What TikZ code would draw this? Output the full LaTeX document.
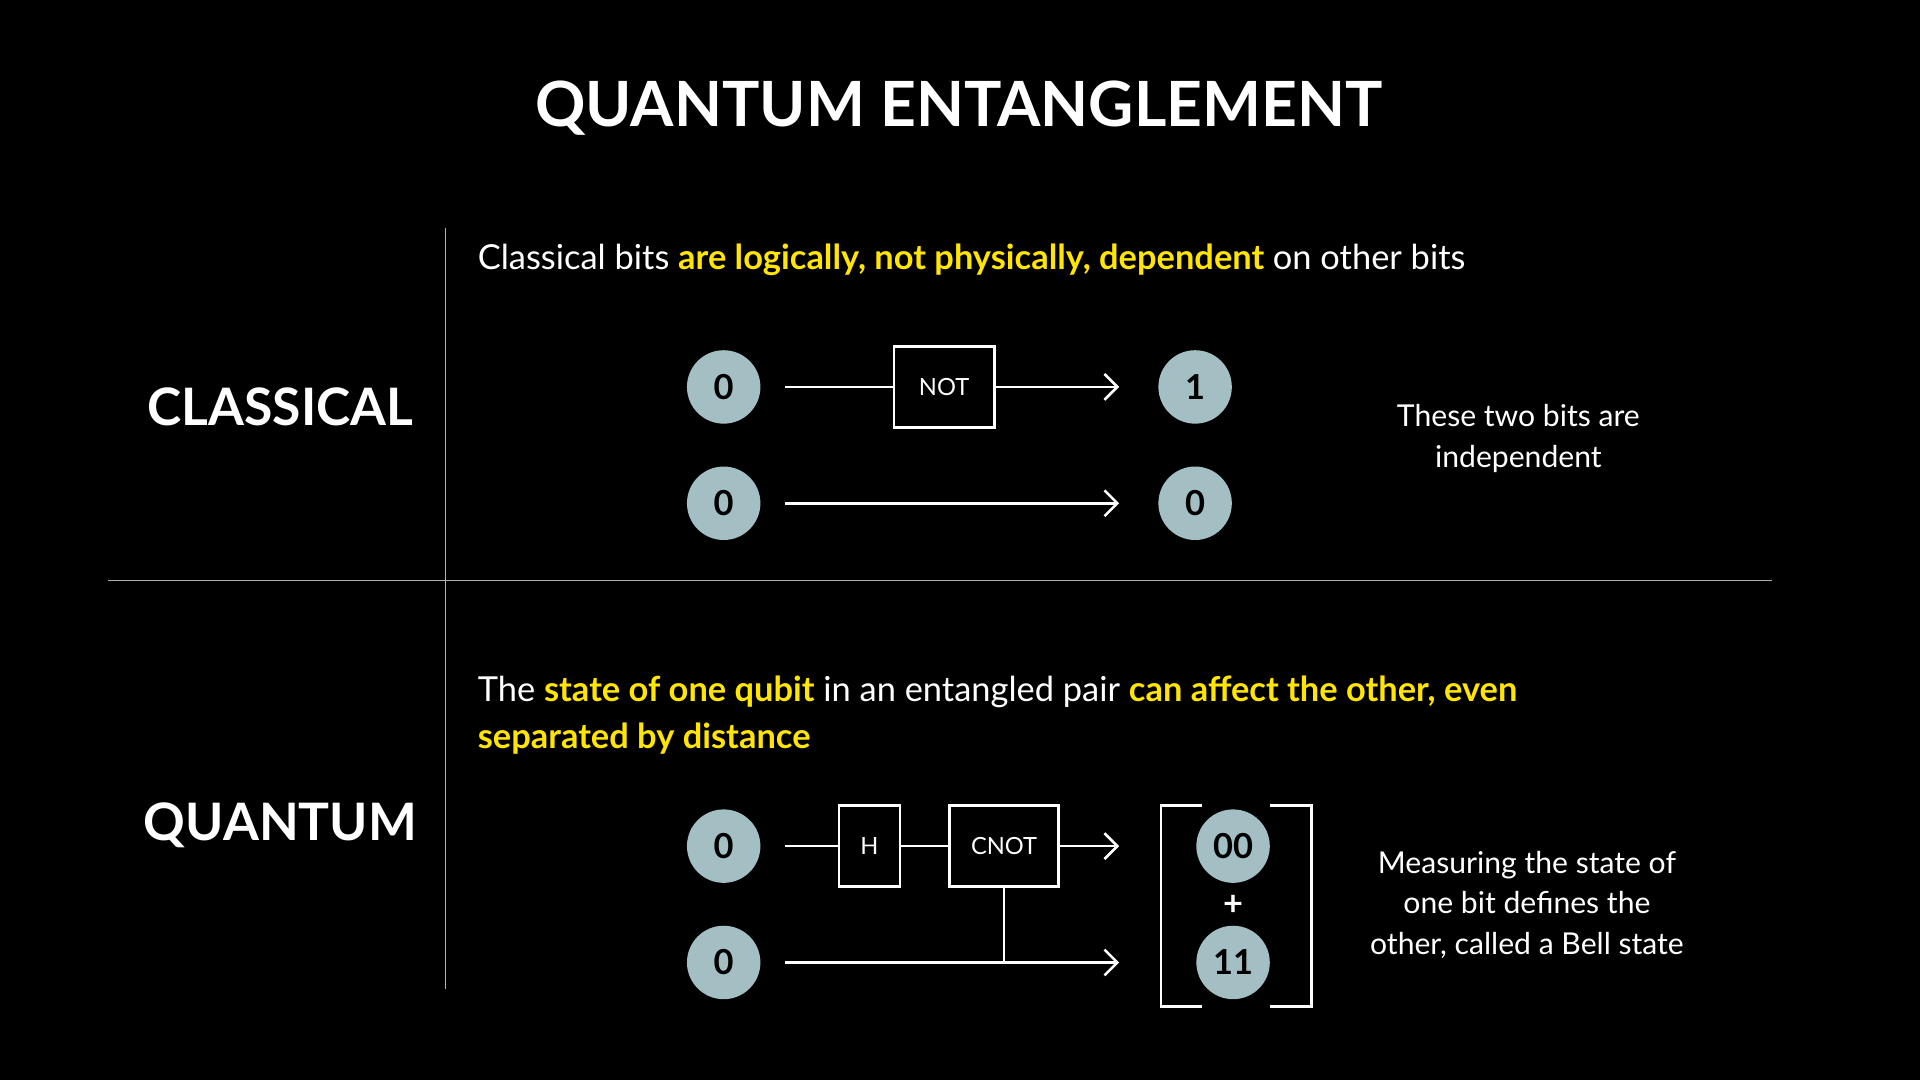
\documentclass[tikz,border=0pt]{standalone}
\usepackage{fontspec}
\setmainfont{Lato}
\usetikzlibrary{arrows.meta, positioning}
\definecolor{bitcol}{HTML}{A3BFC4}
\definecolor{hiyel}{HTML}{FFE500}
\tikzset{
  bit/.style={circle, fill=bitcol, minimum size=1.2cm, inner sep=0pt, text=black, font=\fontsize{16}{16}\selectfont\bfseries},
  gate/.style={draw=white, line width=1.2pt, fill=black, text=white, minimum height=1.32cm, font=\fontsize{11}{11}\selectfont},
  wire/.style={white, line width=1.2pt},
  arr/.style={wire, -{Straight Barb[length=6pt, width=12pt]}},
  sidelabel/.style={text=white, font=\fontsize{24}{24}\selectfont\bfseries},
  note/.style={text=white, align=center, font=\fontsize{14}{19}\selectfont},
  body/.style={text=white, anchor=west, align=left, font=\fontsize{16}{22}\selectfont},
}
\newcommand{\hl}[1]{\textcolor{hiyel}{\bfseries #1}}
\begin{document}
\begin{tikzpicture}[x=0.02cm, y=-0.02cm]
  % Background
  \fill[black] (0,0) rectangle (1568,882);
  \useasboundingbox (0,0) rectangle (1568,882);

  % Title
  \node[text=white, font=\fontsize{29}{29}\selectfont\bfseries] (title) at (783,88) {QUANTUM ENTANGLEMENT};

  % Grid lines
  \draw[white!70!black, line width=0.6pt] (364,186) -- (364,808);
  \draw[white!70!black, line width=0.6pt] (88,474) -- (1447,474);

  % Side labels
  \node[sidelabel] (lclassical) at (229,332) {CLASSICAL};
  \node[sidelabel] (lquantum) at (229,674) {QUANTUM};

  % Classical part
  \node[body] (ctext) at (384,212) {Classical bits \hl{are logically, not physically, dependent} on other bits};
  \node[bit] (ca) at (591,316) {0};
  \node[bit] (cb) at (976,316) {1};
  \node[bit] (cc) at (591,411) {0};
  \node[bit] (cd) at (976,411) {0};
  \node[gate, minimum width=1.64cm] (notg) at (771,316) {NOT};
  \coordinate (cain) at (641,316);
  \coordinate (cbin) at (914,316);
  \coordinate (ccin) at (641,411);
  \coordinate (cdin) at (914,411);
  \draw[wire] (cain) -- (notg.west);
  \draw[arr] (notg.east) -- (cbin);
  \draw[arr] (ccin) -- (cdin);
  \node[note] (cnote) at (1240,358) {These two bits are\\independent};

  % Quantum part
  \node[body] (qtext) at (384,584) {The \hl{state of one qubit} in an entangled pair \hl{can affect the other, even}\\\hl{separated by distance}};
  \node[bit] (qa) at (591,691) {0};
  \node[bit] (qb) at (591,786) {0};
  \node[gate, minimum width=1.0cm] (hg) at (710,691) {H};
  \node[gate, minimum width=1.78cm] (cnotg) at (820,691) {CNOT};
  \coordinate (qain) at (641,691);
  \coordinate (qaout) at (914,691);
  \coordinate (qbin) at (641,786);
  \coordinate (qbout) at (914,786);
  \coordinate (ctrl) at (820,786);
  \draw[wire] (qain) -- (hg.west);
  \draw[wire] (hg.east) -- (cnotg.west);
  \draw[arr] (cnotg.east) -- (qaout);
  \draw[arr] (qbin) -- (qbout);
  \draw[white, line width=0.6pt] (cnotg.south) -- (ctrl);

  % Bell state bracket
  \draw[white, line width=1.2pt] (982,658) -- (948,658) -- (948,822) -- (982,822);
  \draw[white, line width=1.2pt] (1037,658) -- (1071,658) -- (1071,822) -- (1037,822);
  \node[bit] (qc) at (1007,691) {00};
  \node[bit] (qd) at (1007,786) {11};
  \node[text=white, font=\fontsize{16}{16}\selectfont\bfseries] (plus) at (1007,739) {+};
  \node[note] (qnote) at (1247,739) {Measuring the state of\\one bit defines the\\other, called a Bell state};
\end{tikzpicture}
\end{document}
